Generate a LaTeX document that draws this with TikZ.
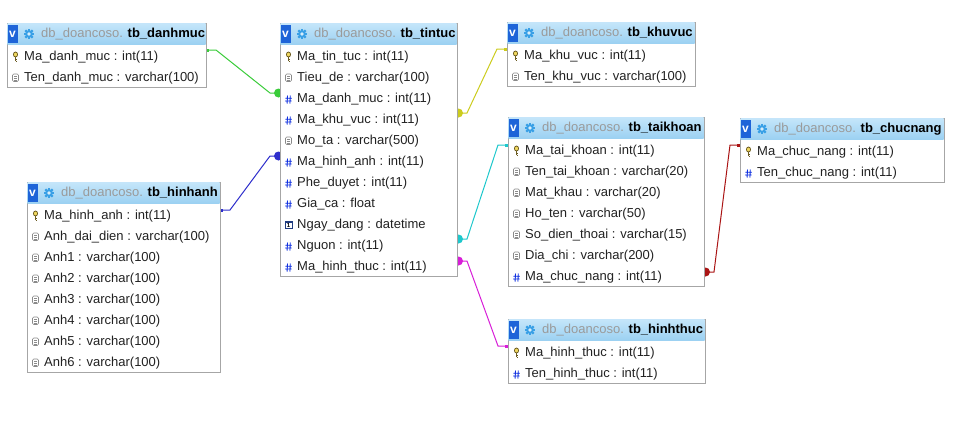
\documentclass[tikz,border=0pt]{standalone}
\usepackage{fontspec}
\setmainfont{Liberation Sans}
\usetikzlibrary{calc,backgrounds}
\definecolor{hdrtop}{HTML}{C4E5FA}
\definecolor{hdrbot}{HTML}{9CD1F2}
\definecolor{vblue}{HTML}{1E64D8}
\definecolor{gearblue}{HTML}{3AA0E6}
\definecolor{gearlight}{HTML}{D8EEFB}
\definecolor{titlegray}{HTML}{9A9A9A}
\definecolor{boxgray}{HTML}{A6A6A6}
\definecolor{txt}{HTML}{222222}
\definecolor{keyyellow}{HTML}{F0D860}
\definecolor{keydark}{HTML}{6A5A20}
\definecolor{docgray}{HTML}{8A8A8A}
\definecolor{hashblue}{HTML}{1030E0}
\definecolor{calblue}{HTML}{203C80}
\definecolor{fkgreen}{HTML}{3ACC3A}
\definecolor{fkblue}{HTML}{2E2ECC}
\definecolor{fkyellow}{HTML}{CCCC1E}
\definecolor{fkcyan}{HTML}{1EC8CC}
\definecolor{fkmag}{HTML}{D81ED8}
\definecolor{fkred}{HTML}{AA1414}

\tikzset{
  tablebox/.style={draw=boxgray, line width=1pt, fill=white, inner sep=0pt, outer sep=0pt, anchor=north west},
  rowtext/.style={anchor=base west, inner sep=0pt, text=txt},
  link/.style={line width=1pt},
}

\newcommand\icKey[1]{\begin{scope}[shift={(#1)}]
  \draw[keydark, line width=1pt] (0,-0.5) -- (0,4.8) (0,3.0) -- (1.8,3.0) (0,4.6) -- (1.8,4.6);
  \filldraw[fill=keyyellow, draw=keydark, line width=0.7pt] (0,-2.0) ellipse (2.1 and 2.5);
\end{scope}}
\newcommand\icDoc[1]{\begin{scope}[shift={(#1)}]
  \filldraw[fill=white, draw=docgray, line width=0.6pt, rounded corners=1.2pt] (-3,-3.5) rectangle (3,4);
  \draw[docgray, line width=0.6pt] (-1.5,-1.3) -- (1.5,-1.3) (-1.5,0.6) -- (1.5,0.6) (-1.5,2.4) -- (1.5,2.4);
\end{scope}}
\newcommand\icHash[1]{\begin{scope}[shift={(#1)}, yshift=-1pt]
  \draw[hashblue, line width=0.9pt] (-1.0,-4) -- (-1.4,4) (1.8,-4) -- (1.4,4) (-3.2,-1.3) -- (3.4,-1.3) (-3.4,1.5) -- (3.2,1.5);
\end{scope}}
\newcommand\icCal[1]{\begin{scope}[shift={(#1)}]
  \filldraw[fill=white, draw=calblue, line width=0.7pt] (-3.5,-3.5) rectangle (3.5,3.5);
  \fill[calblue] (-3.5,-3.5) rectangle (3.5,-1.8);
  \node[inner sep=0pt, font=\bfseries\fontsize{6}{6}\selectfont] at (0,1) {1};
\end{scope}}
\newcommand\icGear[1]{\begin{scope}[shift={(#1)}]
  \foreach \a in {0,45,...,315}{\fill[gearblue, rotate=\a] (-1.1,2.8) rectangle (1.1,5.2);}
  \fill[gearblue] (0,0) circle (3.8);
  \fill[gearlight] (0,0) circle (1.8);
\end{scope}}

% #1 name, #2 x, #3 y, #4 width, #5 rows, #6 title, #7 icon/text list
\newcommand\dbtable[7]{%
  \node[tablebox, minimum width=#4pt, minimum height={(22+21*#5)*1pt}] (#1) at (#2,#3) {};
  \fill[top color=hdrtop, bottom color=hdrbot] ($(#1.north west)+(0.5,0.5)$) rectangle ($(#1.north east)+(-0.5,21)$);
  \fill[vblue] ($(#1.north west)+(0.5,1.5)$) rectangle ($(#1.north west)+(10.5,20)$);
  \node[inner sep=0pt, text=white, font=\bfseries\fontsize{12}{12}\selectfont] at ($(#1.north west)+(5.5,11.5)$) {v};
  \icGear{$(#1.north west)+(22,11)$}
  \node[anchor=base west, inner sep=0pt] at ($(#1.north west)+(34,14.5)$) {\textcolor{titlegray}{db\_doancoso.} \textbf{#6}};
  \foreach [count=\i] \ic/\tx in {#7} {
    \ic{$(#1.north west)+(8.5,{22+21*\i-10.5+1})$}
    \node[rowtext] at ($(#1.north west)+(17,{22+21*\i-10.5+5})$) {\tx};
  }
}

\begin{document}
\begin{tikzpicture}[x=1pt, y=-1pt, font=\fontsize{13}{15}\selectfont]
\begin{pgfonlayer}{background}
  \fill[white] (0,0) rectangle (956,421);
\end{pgfonlayer}
\useasboundingbox (0,0) rectangle (956,421);

\dbtable{danhmuc}{7}{23}{199}{2}{tb\_danhmuc}{%
  \icKey/{Ma\_danh\_muc : int(11)},
  \icDoc/{Ten\_danh\_muc : varchar(100)}}

\dbtable{tintuc}{280}{23}{177}{11}{tb\_tintuc}{%
  \icKey/{Ma\_tin\_tuc : int(11)},
  \icDoc/{Tieu\_de : varchar(100)},
  \icHash/{Ma\_danh\_muc : int(11)},
  \icHash/{Ma\_khu\_vuc : int(11)},
  \icDoc/{Mo\_ta : varchar(500)},
  \icHash/{Ma\_hinh\_anh : int(11)},
  \icHash/{Phe\_duyet : int(11)},
  \icHash/{Gia\_ca : float},
  \icCal/{Ngay\_dang : datetime},
  \icHash/{Nguon : int(11)},
  \icHash/{Ma\_hinh\_thuc : int(11)}}

\dbtable{hinhanh}{27}{182}{193}{8}{tb\_hinhanh}{%
  \icKey/{Ma\_hinh\_anh : int(11)},
  \icDoc/{Anh\_dai\_dien : varchar(100)},
  \icDoc/{Anh1 : varchar(100)},
  \icDoc/{Anh2 : varchar(100)},
  \icDoc/{Anh3 : varchar(100)},
  \icDoc/{Anh4 : varchar(100)},
  \icDoc/{Anh5 : varchar(100)},
  \icDoc/{Anh6 : varchar(100)}}

\dbtable{khuvuc}{507}{22}{188}{2}{tb\_khuvuc}{%
  \icKey/{Ma\_khu\_vuc : int(11)},
  \icDoc/{Ten\_khu\_vuc : varchar(100)}}

\dbtable{taikhoan}{508}{117}{196}{7}{tb\_taikhoan}{%
  \icKey/{Ma\_tai\_khoan : int(11)},
  \icDoc/{Ten\_tai\_khoan : varchar(20)},
  \icDoc/{Mat\_khau : varchar(20)},
  \icDoc/{Ho\_ten : varchar(50)},
  \icDoc/{So\_dien\_thoai : varchar(15)},
  \icDoc/{Dia\_chi : varchar(200)},
  \icHash/{Ma\_chuc\_nang : int(11)}}

\dbtable{chucnang}{740}{118}{204}{2}{tb\_chucnang}{%
  \icKey/{Ma\_chuc\_nang : int(11)},
  \icHash/{Ten\_chuc\_nang : int(11)}}

\dbtable{hinhthuc}{508}{319}{197}{2}{tb\_hinhthuc}{%
  \icKey/{Ma\_hinh\_thuc : int(11)},
  \icHash/{Ten\_hinh\_thuc : int(11)}}

% connector end points
\coordinate (gA) at (danhmuc.east |- 0,50);
\coordinate (gB) at (tintuc.west |- 0,93);
\coordinate (bA) at (hinhanh.east |- 0,210);
\coordinate (bB) at (tintuc.west |- 0,156);
\coordinate (yA) at (khuvuc.west |- 0,49);
\coordinate (yB) at (tintuc.east |- 0,113);
\coordinate (cA) at (taikhoan.west |- 0,145);
\coordinate (cB) at (tintuc.east |- 0,239);
\coordinate (mA) at (hinhthuc.west |- 0,346);
\coordinate (mB) at (tintuc.east |- 0,261);
\coordinate (rA) at (chucnang.west |- 0,145);
\coordinate (rB) at (taikhoan.east |- 0,272);

\begin{pgfonlayer}{background}
  % tb_danhmuc -> tb_tintuc
  \draw[link, fkgreen] (gA) -- ++(10,0) -- ($(gB)+(-10,0)$) -- (gB);
  \fill[fkgreen] ($(gA)+(0,-1.5)$) rectangle ++(3,3);
  \fill[fkgreen] ($(gB)+(-1.5,0)$) circle (4.5);
  % tb_hinhanh -> tb_tintuc
  \draw[link, fkblue] (bA) -- ++(10,0) -- ($(bB)+(-10,0)$) -- (bB);
  \fill[fkblue] ($(bA)+(0,-1.5)$) rectangle ++(3,3);
  \fill[fkblue] ($(bB)+(-1.5,0)$) circle (4.5);
  % tb_khuvuc -> tb_tintuc
  \draw[link, fkyellow] (yB) -- ++(10,0) -- ($(yA)+(-10,0)$) -- (yA);
  \fill[fkyellow] ($(yA)+(-3,-1.5)$) rectangle ++(3,3);
  \fill[fkyellow] ($(yB)+(1.5,0)$) circle (4.5);
  % tb_taikhoan -> tb_tintuc
  \draw[link, fkcyan] (cB) -- ++(10,0) -- ($(cA)+(-10,0)$) -- (cA);
  \fill[fkcyan] ($(cA)+(-3,-1.5)$) rectangle ++(3,3);
  \fill[fkcyan] ($(cB)+(1.5,0)$) circle (4.5);
  % tb_hinhthuc -> tb_tintuc
  \draw[link, fkmag] (mB) -- ++(10,0) -- ($(mA)+(-10,0)$) -- (mA);
  \fill[fkmag] ($(mA)+(-3,-1.5)$) rectangle ++(3,3);
  \fill[fkmag] ($(mB)+(1.5,0)$) circle (4.5);
  % tb_chucnang -> tb_taikhoan
  \draw[link, fkred] (rB) -- ++(10,0) -- ($(rA)+(-10,0)$) -- (rA);
  \fill[fkred] ($(rA)+(-3,-1.5)$) rectangle ++(3,3);
  \fill[fkred] ($(rB)+(1.5,0)$) circle (4.5);
\end{pgfonlayer}
\end{tikzpicture}
\end{document}
